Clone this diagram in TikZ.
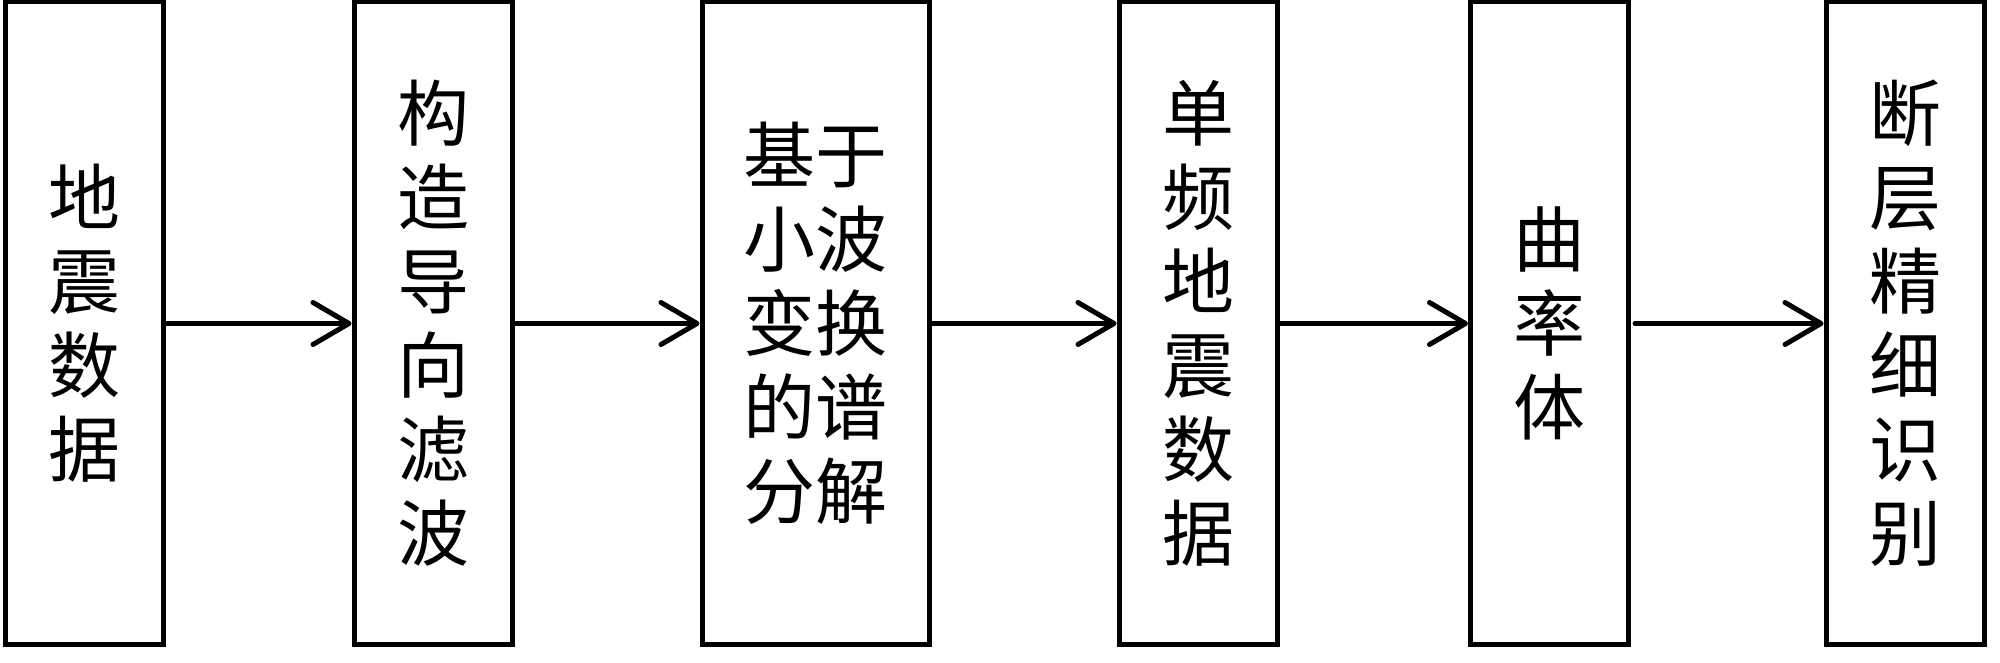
\documentclass[tikz,border=0pt]{standalone}
\usepackage{fontspec}
\newfontfamily\cjk{Noto Sans CJK SC}
\usetikzlibrary{arrows.meta, positioning}

\begin{document}
\begin{tikzpicture}[
    x=1pt, y=1pt,
    >={Straight Barb[length=36pt, width=42pt, round]},
    % Blocks
    box/.style ={draw, line width=5pt, align=center, inner sep=0pt,
                 minimum width=158pt, minimum height=643pt,
                 font={\cjk\fontsize{72}{84}\selectfont}},
    wide/.style={box, minimum width=227pt},
    % Wires
    flow/.style={->, line width=5pt, line cap=round}
]

% Page frame
\useasboundingbox (0,0) rectangle (2000,663);
\fill[white] (0,0) rectangle (2000,663);

% Row height of all blocks
\def\yc{339.5}

% --------------------------- Blocks ----------------------------------
\node[box]  (seis)  at ( 84.8,\yc) {地\\震\\数\\据};
\node[box]  (filt)  at (433.0,\yc) {构\\造\\导\\向\\滤\\波};
\node[wide] (spec)  at (815.5,\yc) {基于\\小波\\变换\\的谱\\分解};
\node[box]  (single)at (1198.0,\yc) {单\\频\\地\\震\\数\\据};
\node[box]  (curv)  at (1549.5,\yc) {曲\\率\\体};
\node[box]  (fault) at (1905.0,\yc) {断\\层\\精\\细\\识\\别};

% --------------------------- Wiring ----------------------------------
\draw[flow] (seis.east)   -- (filt.west);
\draw[flow] (filt.east)   -- (spec.west);
\draw[flow] (spec.east)   -- (single.west);
\draw[flow] (single.east) -- (curv.west);
\draw[flow] ([xshift=4pt]curv.east) -- (fault.west);

\end{tikzpicture}
\end{document}
